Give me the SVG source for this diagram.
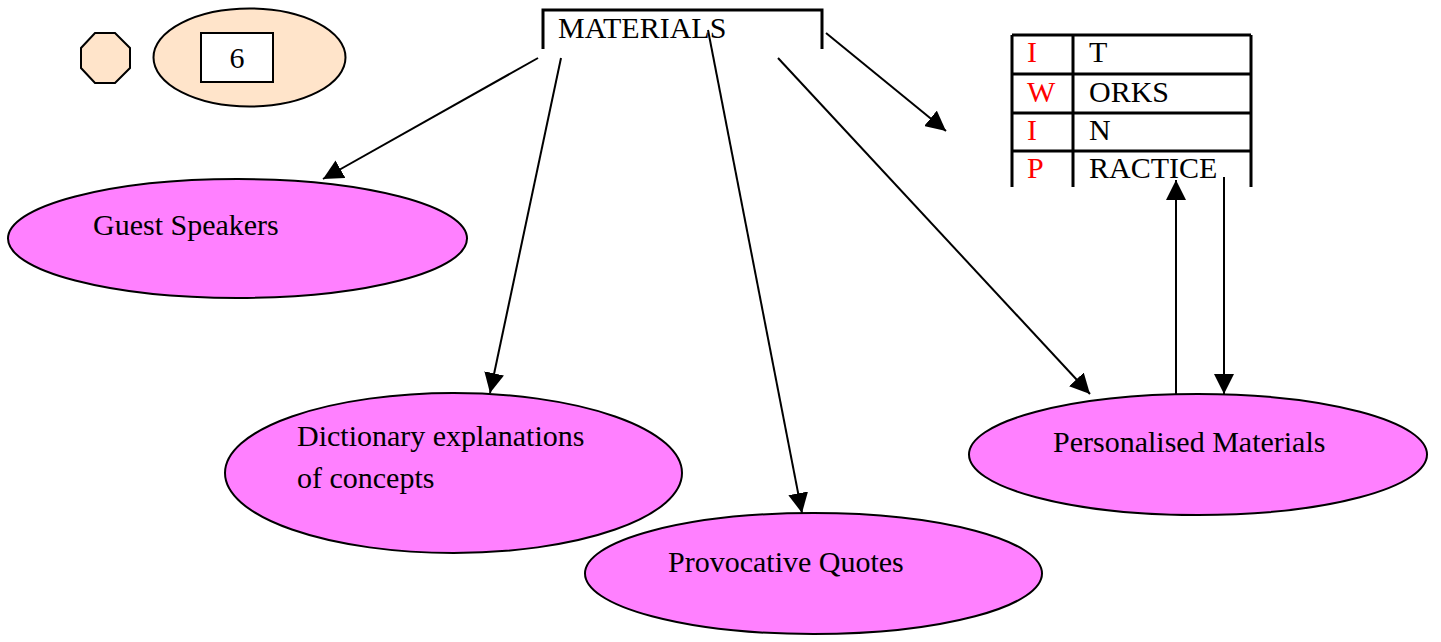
<svg xmlns="http://www.w3.org/2000/svg" width="1441" height="642" viewBox="0 0 1441 642">
<style>
text{font-family:"Liberation Serif","Times New Roman",serif;font-size:30px;fill:#000}
.pink{fill:#FF80FF;stroke:#000;stroke-width:2}
.peach{fill:#FFE4CA;stroke:#000;stroke-width:2}
.conn{stroke:#000;stroke-width:2;fill:none;marker-end:url(#ah)}
.tbl{stroke:#000;stroke-width:3;fill:none}
.red{fill:#FF0000}
</style>
<defs>
<marker id="ah" viewBox="0 0 20 20" refX="20" refY="10" markerWidth="20" markerHeight="20" markerUnits="userSpaceOnUse" orient="auto">
<path d="M0,0 L20,10 L0,20 z" fill="#000"/>
</marker>
</defs>
<g id="octagon">
<polygon class="peach" points="95,33 115,33 130,48 130,68 115,83 95,83 81,68 81,48"/>
</g>
<g id="number-badge">
<ellipse class="peach" cx="249.5" cy="57.5" rx="96" ry="49"/>
<rect x="201" y="33" width="72" height="49" fill="#fff" stroke="#000" stroke-width="2"/>
<text x="237" y="68" text-anchor="middle">6</text>
</g>
<g id="materials">
<path class="tbl" d="M543,49 V10 H822 V49"/>
<text x="558" y="38">MATERIALS</text>
</g>
<g id="iwip-table">
<path class="tbl" d="M1012,35 H1251 M1012,74 H1251 M1012,113 H1251 M1012,151 H1251 M1012,35 V187 M1073,35 V187 M1251,35 V187"/>
<text class="red" x="1027" y="62">I</text>
<text x="1089" y="62">T</text>
<text class="red" x="1027" y="102">W</text>
<text x="1089" y="102">ORKS</text>
<text class="red" x="1027" y="140">I</text>
<text x="1089" y="140">N</text>
<text class="red" x="1027" y="178">P</text>
<text x="1089" y="178">RACTICE</text>
</g>
<g id="guest-speakers">
<ellipse class="pink" cx="237.5" cy="238.5" rx="229.5" ry="59.5"/>
<text x="93" y="235">Guest Speakers</text>
</g>
<g id="dictionary">
<ellipse class="pink" cx="453.5" cy="473" rx="228.5" ry="80"/>
<text x="297" y="446">Dictionary explanations</text>
<text x="297" y="488">of concepts</text>
</g>
<g id="provocative-quotes">
<ellipse class="pink" cx="813.5" cy="573.5" rx="228.5" ry="60.5"/>
<text x="668" y="572">Provocative Quotes</text>
</g>
<g id="personalised-materials">
<ellipse class="pink" cx="1198" cy="454.5" rx="229" ry="60.5"/>
<text x="1053" y="452">Personalised Materials</text>
</g>
<g id="connectors">
<line class="conn" x1="538" y1="58" x2="323" y2="179"/>
<line class="conn" x1="561" y1="58" x2="490" y2="393"/>
<line class="conn" x1="708" y1="30" x2="802" y2="513"/>
<line class="conn" x1="778" y1="58" x2="1090" y2="394"/>
<line class="conn" x1="826" y1="33" x2="946" y2="131"/>
<line class="conn" x1="1176" y1="394" x2="1176" y2="180"/>
<line class="conn" x1="1224" y1="177" x2="1224" y2="394"/>
</g>
</svg>
